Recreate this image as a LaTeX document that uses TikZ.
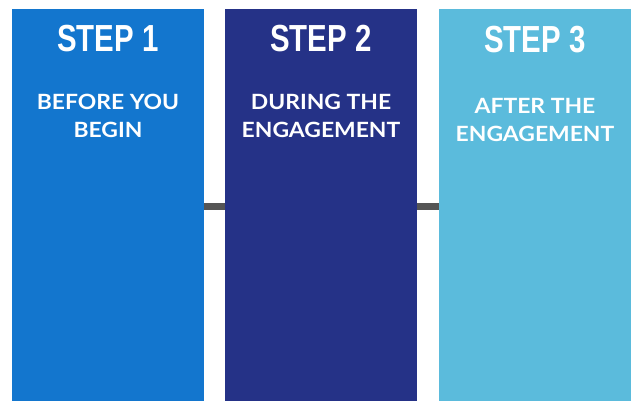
\documentclass[tikz,border=0pt]{standalone}
\usepackage{fontspec}
\setsansfont{Lato}[FakeStretch=1.09]
\newfontfamily\stepfont{Liberation Sans}[FakeStretch=0.78]
\usetikzlibrary{positioning}
\definecolor{stepA}{HTML}{1376CE}
\definecolor{stepB}{HTML}{253287}
\definecolor{stepC}{HTML}{5BBBDC}
\definecolor{barc}{HTML}{555555}
\tikzset{
  box/.style={rectangle,draw=none,minimum width=192pt,minimum height=395pt,inner sep=0pt,anchor=north},
  title/.style={text=white,inner sep=0pt,font=\stepfont\bfseries\fontsize{37.7}{40}\selectfont},
  sub/.style={text=white,inner sep=0pt,align=center,font=\sffamily\bfseries\fontsize{21}{28}\selectfont},
  bar/.style={line width=7pt,draw=barc},
}

\begin{document}
\begin{tikzpicture}[x=1pt,y=-1pt]
  \useasboundingbox (0,0) rectangle (631,400);
  \node[box,fill=stepA] (b1) at (108,9) {};
  \node[box,fill=stepB] (b2) at (321,9) {};
  \node[box,fill=stepC] (b3) at (535,9) {};

  % short links between neighbouring boxes
  \draw[bar] (b1.east) -- (b2.west);
  \draw[bar] (b2.east) -- (b3.west);

  \node[title] (t1) at (108,38.5) {STEP 1};
  \node[title] (t2) at (321,38.5) {STEP 2};
  \node[title] (t3) at (535,39.5) {STEP 3};

  \node[sub] (s1) at (108,116) {BEFORE YOU\\BEGIN};
  \node[sub] (s2) at (321,116) {DURING THE\\ENGAGEMENT};
  \node[sub] (s3) at (535,120) {AFTER THE\\ENGAGEMENT};
\end{tikzpicture}
\end{document}
